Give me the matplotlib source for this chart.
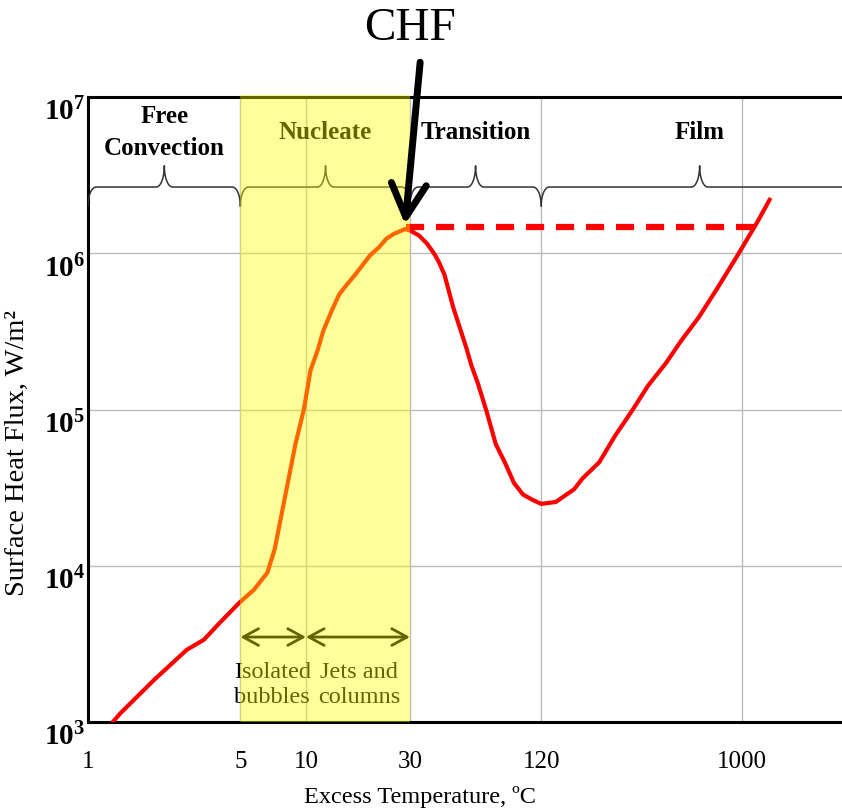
import numpy as np
import matplotlib
matplotlib.use('Agg')
import matplotlib.pyplot as plt
import matplotlib.transforms as mtransforms

plt.rcParams['font.family'] = 'Liberation Serif'
plt.rcParams['mathtext.fontset'] = 'custom'
plt.rcParams['mathtext.rm'] = 'Liberation Serif'
plt.rcParams['mathtext.bf'] = 'Liberation Serif:bold'
plt.rcParams['mathtext.it'] = 'Liberation Serif:italic'

# boiling curve: excess temperature (C) vs heat flux (W/m2)
dT = [1.2, 1.41, 2.01, 2.84, 3.40, 4.02, 4.94, 5.77, 6.65, 7.19, 8.02, 8.95,
      9.78, 10.5, 11.3, 12.0, 13.1, 14.2, 15.4, 16.8, 19.7, 21.6, 23.4, 25.3,
      28.5, 30.0, 33.0, 36.0, 39.0, 40.7, 43.2, 47.4, 50.7, 54.2, 57.4, 61.4,
      67.6, 74.3, 82.0, 90.0, 99.0, 109, 120, 140, 170, 185, 222, 262, 316,
      371, 448, 527, 635, 773, 944, 1170, 1340]
q = [880, 1140, 1860, 2900, 3360, 4310, 5790, 7020, 9020, 12800, 27700, 60100,
     1.0e5, 1.79e5, 2.38e5, 3.18e5, 4.26e5, 5.45e5, 6.3e5, 7.28e5, 9.71e5, 1.09e6, 1.24e6, 1.33e6,
     1.43e6, 1.40e6, 1.30e6, 1.15e6, 9.8e5, 8.8e5, 7.3e5, 4.5e5, 3.37e5, 2.53e5, 1.92e5, 1.48e5,
     9.6e4, 6.0e4, 4.55e4, 3.39e4, 2.86e4, 2.65e4, 2.49e4, 2.56e4, 3.09e4, 3.6e4, 4.61e4, 6.79e4, 1.0e5,
     1.42e5, 1.98e5, 2.76e5, 3.9e5, 6.0e5, 9.44e5, 1.56e6, 2.2e6]

# critical heat flux level (dashed line)
chf_dT = [28.8, 1150]
chf_q = [1.48e6, 1.48e6]

# nucleate boiling band
nucleate = (5, 30)

x_ticks = [1, 5, 10, 30, 120, 1000]
x_labels = ['1', '5', '10', '30', '120', '1000']
y_ticks = [1e3, 1e4, 1e5, 1e6, 1e7]
y_labels = [r'$\mathbf{10^{%d}}$' % k for k in [3, 4, 5, 6, 7]]

# regimes: name, start, end, brace tip
regimes = [('Free\nConvection', 1, 5, 2.24),
           ('Nucleate', 5, 30, 12.3),
           ('Transition', 30, 120, 60),
           ('Film', 120, 3500, 640)]


def brace(ax, x0, x1, xm, y_line=0.856, y_tip=0.89, y_end=0.826, d=0.037):
    u0, u1, um = np.log10([x0, x1, xm])
    t = np.linspace(0, np.pi / 2, 15)
    tr = t[::-1]
    h = y_tip - y_line
    dr = y_line - y_end
    ua = u0 + d * (1 - np.cos(t))
    ya = y_line - dr * (1 - np.sin(t))
    ub = um - d + d * np.sin(t)
    yb = y_line + h * (1 - np.cos(t))
    uc = um + d - d * np.sin(tr)
    yc = y_line + h * (1 - np.cos(tr))
    ud = u1 - d * (1 - np.cos(tr))
    yd = y_line - dr * (1 - np.sin(tr))
    u = np.concatenate([ua, ub, uc, ud])
    y = np.concatenate([ya, yb, yc, yd])
    ax.plot(10 ** u, y, transform=ax.get_xaxis_transform(), color='#333333',
            lw=1.1, zorder=4)


fig = plt.figure(figsize=(8.42, 8.08), dpi=100)
ax = fig.add_axes([0.1045, 0.1064, 0.8955, 0.7735])
ax.set_xscale('log')
ax.set_yscale('log')
ax.set_xlim(1, 2880)
ax.set_ylim(1e3, 1e7)

ax.plot(dT, q, color='red', lw=3, zorder=3, solid_joinstyle='round')
ax.plot(chf_dT, chf_q, color='red', lw=4.5, dashes=(2.9, 1.9), zorder=3)

ax.set_xticks(x_ticks, labels=x_labels)
ax.set_yticks(y_ticks, labels=y_labels)
ax.minorticks_off()
ax.grid(True, color='#bbbbbb', lw=1)
ax.set_axisbelow(True)
ax.tick_params(axis='both', length=0)
ax.tick_params(axis='x', pad=21, labelsize=18)
ax.tick_params(axis='y', pad=2, labelsize=21)
off = mtransforms.ScaledTranslation(0, -9 / 72, fig.dpi_scale_trans)
for lab in ax.get_yticklabels():
    lab.set_transform(lab.get_transform() + off)

for s in ['left', 'bottom', 'top']:
    ax.spines[s].set_linewidth(2.2)
    ax.spines[s].set_color('black')
ax.spines['right'].set_visible(False)

ax.set_xlabel('Excess Temperature, ºC', fontsize=17.5)
ax.xaxis.set_label_coords(0.44, -0.103)
ax.set_ylabel('Surface Heat Flux, W/m²', fontsize=20.5)
ax.yaxis.set_label_coords(-0.077, 0.43)

# regime braces and labels
for name, a, b, m in regimes:
    brace(ax, a, b, m)
    ax.text(m, 0.944, name, transform=ax.get_xaxis_transform(), ha='center',
            va='center', fontsize=18, fontweight='bold', linespacing=1.5, zorder=5)

# sub-regimes inside the nucleate band
tr = ax.get_xaxis_transform()
for a, b in [(5, 10), (10, 30)]:
    ax.annotate('', xy=(b, 0.136), xytext=(a, 0.136), xycoords=tr, textcoords=tr,
                arrowprops=dict(arrowstyle='<->,head_length=0.55,head_width=0.3',
                                lw=2, color='black', mutation_scale=20,
                                shrinkA=0, shrinkB=0))
ax.text(7.0, 0.059, 'Isolated\nbubbles', transform=tr, ha='center', va='center',
        fontsize=17.5, linespacing=1.25)
ax.text(17.5, 0.059, 'Jets and\ncolumns', transform=tr, ha='center', va='center',
        fontsize=17.5, linespacing=1.25)

# yellow band over everything in the nucleate range
ax.axvspan(nucleate[0], nucleate[1], ymin=0, ymax=1.004, color='yellow',
           alpha=0.4, lw=0, zorder=10, clip_on=False)

# CHF arrow
fig.text(0.487, 0.965, 'CHF', ha='center', va='center', fontsize=34)
ax.annotate('', xy=(28.5, 1.53e6), xycoords='data', xytext=(0.499, 0.923),
            textcoords='figure fraction', annotation_clip=False,
            arrowprops=dict(arrowstyle='->,head_length=0.85,head_width=0.45',
                            lw=5, color='black', mutation_scale=28,
                            shrinkA=0, shrinkB=0), zorder=20)

fig.savefig('out.png', dpi=100)
